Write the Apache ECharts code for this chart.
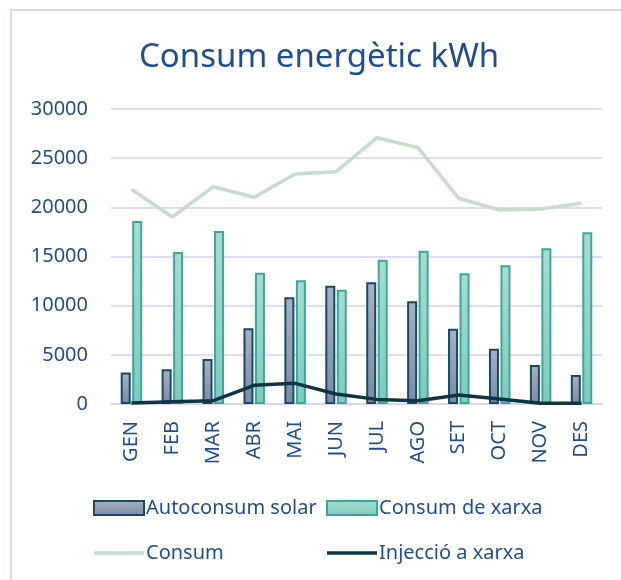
<!DOCTYPE html>
<html>
<head>
<meta charset="utf-8">
<script src="https://cdn.jsdelivr.net/npm/echarts@6/dist/echarts.min.js"></script>
<style>
html,body{margin:0;padding:0;background:#fff;}
#chart{width:621px;height:580px;}
</style>
</head>
<body>
<div id="chart"></div>
<script>
const months = ['GEN','FEB','MAR','ABR','MAI','JUN','JUL','AGO','SET','OCT','NOV','DES'];
const autoconsumSolar = [3200, 3530, 4580, 7700, 10850, 12030, 12370, 10440, 7660, 5630, 3970, 2950];
const consumXarxa = [18610, 15460, 17590, 13360, 12580, 11630, 14680, 15590, 13290, 14100, 15830, 17460];
const consum = [21830, 19020, 22100, 21020, 23390, 23630, 27080, 26070, 20920, 19730, 19830, 20410];
const injeccio = [100, 240, 340, 1900, 2100, 1020, 470, 340, 920, 510, 70, 70];
const yTicks = [0, 5000, 10000, 15000, 20000, 25000, 30000];

const FONT = 'Noto Sans';
const BLUE = '#1F4E8F';
const GRIDC = '#D6D1F2';
const LINE_ICON = 'path://M0,0H50V3.5H0Z';

const chart = echarts.init(document.getElementById('chart'), null, {renderer: 'canvas'});
chart.setOption({
  backgroundColor: '#fff',
  animation: false,
  graphic: [{
    type: 'rect',
    shape: {x: 11, y: 10, width: 640, height: 600},
    style: {fill: 'none', stroke: '#D9D5F5', lineWidth: 2},
    silent: true
  }],
  title: {
    text: 'Consum energètic kWh',
    left: 134,
    top: 36,
    textStyle: {fontFamily: FONT, fontSize: 33, fontWeight: 'normal', color: BLUE}
  },
  grid: {left: 111, right: 19, top: 109, bottom: 176, containLabel: false},
  xAxis: {
    type: 'category',
    data: months,
    axisLine: {show: true, lineStyle: {color: GRIDC, width: 1.5}},
    axisTick: {show: false},
    axisLabel: {rotate: 90, margin: 17, fontFamily: FONT, fontSize: 20, color: BLUE}
  },
  yAxis: {
    type: 'value',
    min: yTicks[0],
    max: yTicks[yTicks.length - 1],
    interval: yTicks[1] - yTicks[0],
    axisLine: {show: false},
    axisTick: {show: false},
    splitLine: {lineStyle: {color: GRIDC, width: 1.5}},
    axisLabel: {margin: 23, fontFamily: FONT, fontSize: 20, color: BLUE, formatter: v => String(v)}
  },
  legend: [{
    data: [{name: 'Autoconsum solar', icon: 'rect'}, {name: 'Consum', icon: LINE_ICON}],
    orient: 'vertical',
    left: 88,
    top: 492,
    itemWidth: 50,
    itemHeight: 14,
    itemGap: 23,
    textStyle: {fontFamily: FONT, fontSize: 20, color: BLUE, lineHeight: 22, padding: [0, 0, 0, -3]}
  }, {
    data: [{name: 'Consum de xarxa', icon: 'rect'}, {name: 'Injecció a xarxa', icon: LINE_ICON}],
    orient: 'vertical',
    left: 321,
    top: 492,
    itemWidth: 50,
    itemHeight: 14,
    itemGap: 23,
    textStyle: {fontFamily: FONT, fontSize: 20, color: BLUE, lineHeight: 22, padding: [0, 0, 0, -3]}
  }],
  series: [{
    name: 'Autoconsum solar',
    type: 'bar',
    data: autoconsumSolar,
    barWidth: 10,
    barGap: '15%',
    itemStyle: {
      color: new echarts.graphic.LinearGradient(0, 0, 0, 1, [
        {offset: 0, color: '#A7B1C1'},
        {offset: 1, color: '#7A8BA3'}
      ]),
      borderColor: '#174A66',
      borderWidth: 2
    }
  }, {
    name: 'Consum de xarxa',
    type: 'bar',
    data: consumXarxa,
    barWidth: 10,
    barGap: '15%',
    itemStyle: {
      color: new echarts.graphic.LinearGradient(0, 0, 0, 1, [
        {offset: 0, color: '#A9DBD2'},
        {offset: 1, color: '#7DCBBD'}
      ]),
      borderColor: '#3AA99A',
      borderWidth: 2
    }
  }, {
    name: 'Consum',
    type: 'line',
    data: consum,
    symbol: 'none',
    lineStyle: {color: '#C6DDCA', width: 3.5},
    itemStyle: {color: '#C6DDCA'}
  }, {
    name: 'Injecció a xarxa',
    type: 'line',
    data: injeccio,
    symbol: 'none',
    lineStyle: {color: '#0F3445', width: 3.5},
    itemStyle: {color: '#0F3445'}
  }]
});
</script>
</body>
</html>
